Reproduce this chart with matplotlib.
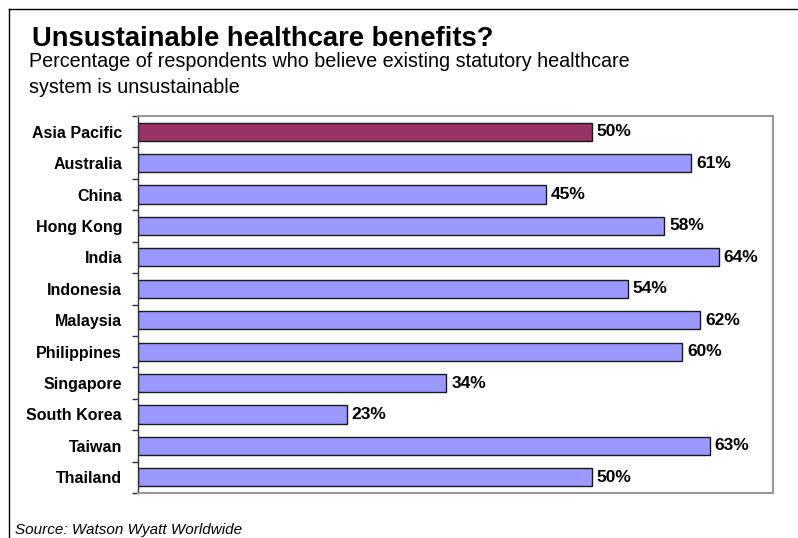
import matplotlib
matplotlib.use("Agg")
import matplotlib.pyplot as plt
from matplotlib.lines import Line2D

categories = ["Asia Pacific", "Australia", "China", "Hong Kong", "India", "Indonesia",
              "Malaysia", "Philippines", "Singapore", "South Korea", "Taiwan", "Thailand"]
values = [50, 61, 45, 58, 64, 54, 62, 60, 34, 23, 63, 50]
labels = ["50%", "61%", "45%", "58%", "64%", "54%", "62%", "60%", "34%", "23%", "63%", "50%"]

plt.rcParams["font.family"] = ["Liberation Sans", "DejaVu Sans"]

W, H = 798, 538
fig = plt.figure(figsize=(W / 100, H / 100), dpi=100)

# plot area in pixel coordinates
left, right, top, bottom = 138, 773, 116, 493
ax = fig.add_axes([left / W, 1 - bottom / H, (right - left) / W, (bottom - top) / H])

colors = ["#993366"] + ["#9999FF"] * (len(categories) - 1)
ypos = list(range(len(categories)))
ax.barh(ypos, values, height=0.58, color=colors, edgecolor="#1a1a1a", linewidth=1.0)
ax.set_xlim(0, 70)
ax.set_ylim(len(categories) - 0.5, -0.5)

for y, v, t in zip(ypos, values, labels):
    ax.text(v + 0.55, y, t, va="center", ha="left", fontsize=12.5, fontweight="bold")

ax.set_yticks([i - 0.5 for i in range(len(categories) + 1)])
ax.set_yticklabels([])
ax.set_yticks(ypos, minor=True)
ax.set_yticklabels(categories, minor=True, fontsize=11.5, fontweight="bold")
ax.tick_params(axis="y", which="major", length=4.5, width=1, color="#333333")
ax.tick_params(axis="y", which="minor", length=0, pad=11.5)
ax.set_xticks([])

for s in ["top", "right", "bottom"]:
    ax.spines[s].set_color("#999999")
    ax.spines[s].set_linewidth(1.5)
ax.spines["left"].set_color("#333333")
ax.spines["left"].set_linewidth(1)

# outer frame
fig.add_artist(Line2D([9 / W, 1], [1 - 9 / H, 1 - 9 / H], color="black", linewidth=1, transform=fig.transFigure))
fig.add_artist(Line2D([9 / W, 9 / W], [1 - 9 / H, 0], color="black", linewidth=1, transform=fig.transFigure))

fig.text(32 / W, 1 - 46 / H, "Unsustainable healthcare benefits?", fontsize=19.7, fontweight="bold", ha="left", va="baseline")
fig.text(29 / W, 1 - 67 / H, "Percentage of respondents who believe existing statutory healthcare",
         fontsize=14.2, ha="left", va="baseline")
fig.text(29 / W, 1 - 93 / H, "system is unsustainable", fontsize=14.2, ha="left", va="baseline")
fig.text(15 / W, 1 - 534 / H, "Source: Watson Wyatt Worldwide", fontsize=11, style="italic", ha="left", va="baseline")

fig.savefig("out.png", dpi=100)
